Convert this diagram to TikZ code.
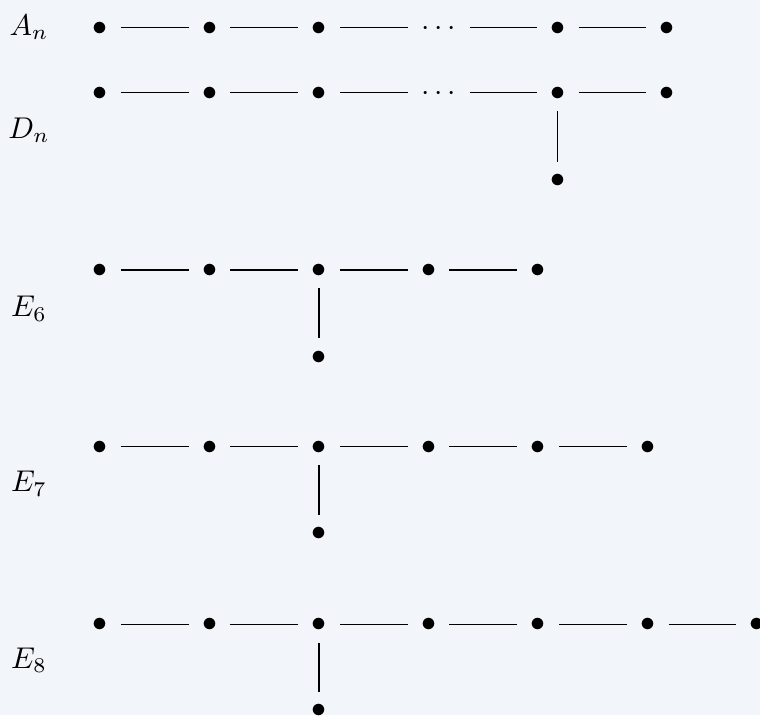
\documentclass[tikz,border=0pt]{standalone}
\definecolor{bg}{RGB}{242,245,250}
\begin{document}
\begin{tikzpicture}[x=0.33333pt,y=-0.33333pt,
  vtx/.style={inner sep=0pt, text height=5pt, text depth=0pt,
              minimum width=13.5pt, minimum height=11.9pt},
  dts/.style={inner sep=0pt, text height=5pt, text depth=0pt,
              minimum width=20.2pt, minimum height=11.9pt},
  lbl/.style={anchor=base, inner sep=0pt},
  bond/.style={line width=0.4pt}]
\fill[bg] (0,0) rectangle (760,715);
\useasboundingbox (0,0) rectangle (760,715);

% A_n
\node[lbl] (lA) at (29,35) {$A_n$};
\node[vtx] (a1) at (100,27.7) {$\bullet$};
\node[vtx] (a2) at (209.5,27.7) {$\bullet$};
\node[vtx] (a3) at (319,27.7) {$\bullet$};
\node[dts] (ad) at (438.7,27.7) {$\cdots$};
\node[vtx] (a4) at (557.7,27.7) {$\bullet$};
\node[vtx] (a5) at (667,27.7) {$\bullet$};
\draw[bond] (a1) -- (a2) (a2) -- (a3) (a3) -- (ad) (ad) -- (a4) (a4) -- (a5);

% D_n
\node[lbl] (lD) at (29,138.3) {$D_n$};
\node[vtx] (d1) at (100,92.7) {$\bullet$};
\node[vtx] (d2) at (209.5,92.7) {$\bullet$};
\node[vtx] (d3) at (319,92.7) {$\bullet$};
\node[dts] (dd) at (438.7,92.7) {$\cdots$};
\node[vtx] (d4) at (557.7,92.7) {$\bullet$};
\node[vtx] (d5) at (667,92.7) {$\bullet$};
\node[vtx] (d6) at (557.7,180) {$\bullet$};
\draw[bond] (d1) -- (d2) (d2) -- (d3) (d3) -- (dd) (dd) -- (d4) (d4) -- (d5) (d4) -- (d6);

% E_6
\node[lbl] (lE6) at (29,316.7) {$E_6$};
\node[vtx] (f1) at (100,270) {$\bullet$};
\node[vtx] (f2) at (209.5,270) {$\bullet$};
\node[vtx] (f3) at (319,270) {$\bullet$};
\node[vtx] (f4) at (428.6,270) {$\bullet$};
\node[vtx] (f5) at (538.2,270) {$\bullet$};
\node[vtx] (f6) at (319,356.7) {$\bullet$};
\draw[bond] (f1) -- (f2) (f2) -- (f3) (f3) -- (f4) (f4) -- (f5) (f3) -- (f6);

% E_7
\node[lbl] (lE7) at (29,491.7) {$E_7$};
\node[vtx] (g1) at (100,446.7) {$\bullet$};
\node[vtx] (g2) at (209.5,446.7) {$\bullet$};
\node[vtx] (g3) at (319,446.7) {$\bullet$};
\node[vtx] (g4) at (428.6,446.7) {$\bullet$};
\node[vtx] (g5) at (538.2,446.7) {$\bullet$};
\node[vtx] (g6) at (647.7,446.7) {$\bullet$};
\node[vtx] (g7) at (319,533) {$\bullet$};
\draw[bond] (g1) -- (g2) (g2) -- (g3) (g3) -- (g4) (g4) -- (g5) (g5) -- (g6) (g3) -- (g7);

% E_8
\node[lbl] (lE8) at (29,668.3) {$E_8$};
\node[vtx] (h1) at (100,624.3) {$\bullet$};
\node[vtx] (h2) at (209.5,624.3) {$\bullet$};
\node[vtx] (h3) at (319,624.3) {$\bullet$};
\node[vtx] (h4) at (428.6,624.3) {$\bullet$};
\node[vtx] (h5) at (538.2,624.3) {$\bullet$};
\node[vtx] (h6) at (647.7,624.3) {$\bullet$};
\node[vtx] (h7) at (757.2,624.3) {$\bullet$};
\node[vtx] (h8) at (319,710) {$\bullet$};
\draw[bond] (h1) -- (h2) (h2) -- (h3) (h3) -- (h4) (h4) -- (h5) (h5) -- (h6) (h6) -- (h7) (h3) -- (h8);
\end{tikzpicture}
\end{document}
